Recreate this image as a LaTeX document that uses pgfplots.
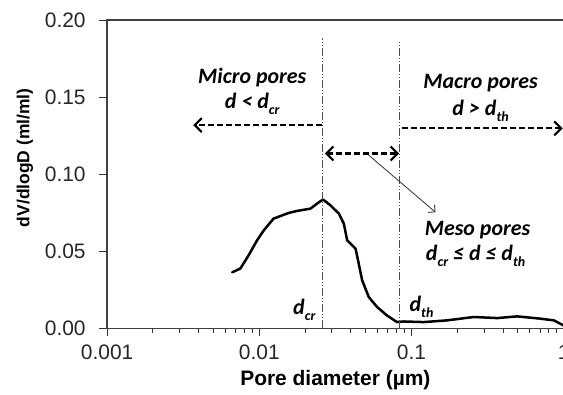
\documentclass[border=0pt]{standalone}
\usepackage{pgfplots}
\pgfplotsset{compat=1.18}
\usetikzlibrary{arrows.meta}
\usepackage{fontspec}
\setmainfont{Liberation Sans}
\newfontfamily\calfont{Carlito}
\newcommand{\sub}[1]{\raisebox{-0.3em}{\fontsize{14}{14}\selectfont #1}}
\newcommand{\ann}{\calfont\bfseries\itshape\fontsize{22}{24}\selectfont}
\begin{document}
\begin{tikzpicture}
\begin{axis}[
  name=ax,
  scale only axis, width=456bp, height=308bp,
  xmode=log, xmin=0.001, xmax=1, ymin=0, ymax=0.2,
  xtick={0.001,0.01,0.1,1}, xticklabels={0.001,0.01,0.1,1},
  ytick={0,0.05,0.1,0.15,0.2},
  yticklabels={0.00,0.05,0.10,0.15,0.20},
  /pgf/number format/assume math mode=true,
  tick label style={font=\fontsize{21}{21}\selectfont, text=black!85},
  every y tick label/.append style={anchor=east, xshift=-10bp},
  every x tick label/.append style={anchor=north, yshift=-5bp},
  xtick pos=left, ytick pos=left,
  tick align=outside,
  major tick length=8bp, minor tick length=4.5bp,
  every tick/.style={black!80, line width=1bp},
  axis line style={black!75, line width=1.3bp},
  xlabel={Pore diameter (µm)},
  ylabel={dV/dlogD (ml/ml)},
  every axis x label/.style={at={(rel axis cs:0.5,0)}, anchor=base, yshift=-57bp, font=\bfseries\fontsize{21}{21}\selectfont},
  every axis y label/.style={at={(rel axis cs:0,0.5536)}, xshift=-82bp, rotate=90, anchor=center, font=\bfseries\fontsize{17.5}{17.5}\selectfont},
  clip=false,
]
\addplot[black, line width=2.5bp, line join=round, line cap=round] coordinates {
(0.00664,0.0364) (0.0075,0.0388) (0.00851,0.0474) (0.00966,0.0571) (0.0107,0.0636)
(0.0124,0.0712) (0.0156,0.0749) (0.0177,0.0762) (0.0217,0.0777) (0.0240,0.0810)
(0.0262,0.0836) (0.0293,0.0799) (0.0333,0.0745) (0.0359,0.0680) (0.0378,0.0571)
(0.0429,0.0517) (0.0450,0.0420) (0.0474,0.0312) (0.0524,0.0203) (0.0594,0.0139)
(0.0690,0.0084) (0.0803,0.0041) (0.0889,0.0045) (0.120,0.0041) (0.171,0.0052)
(0.256,0.0074) (0.366,0.0067) (0.494,0.0078) (0.706,0.0063) (0.863,0.0052) (1.0,0.0019)
};
% vertical boundary lines
\draw[black!70, line width=1.1bp, dash pattern=on 8bp off 2bp on 1bp off 2bp on 1bp off 2bp]
  (axis cs:0.02584,0) -- (axis cs:0.02584,0.1881);
\draw[black!70, line width=1.1bp, dash pattern=on 8bp off 2bp on 1bp off 2bp on 1bp off 2bp]
  (axis cs:0.0839,0) -- (axis cs:0.0839,0.1870);
% arrows
\draw[line width=2.1bp, dash pattern=on 6bp off 3bp, -{Straight Barb[length=7bp,width=14bp,line width=2.1bp]}]
  (rel axis cs:0.4708,0.659) -- (rel axis cs:0.1886,0.659);
\draw[line width=2.1bp, dash pattern=on 6bp off 3bp, -{Straight Barb[length=7bp,width=14bp,line width=2.1bp]}]
  (rel axis cs:0.6456,0.6487) -- (rel axis cs:0.9978,0.6487);
\draw[line width=2.1bp, dash pattern=on 6bp off 3bp, {Straight Barb[length=7bp,width=14bp,line width=2.1bp]}-{Straight Barb[length=7bp,width=14bp,line width=2.1bp]}]
  (rel axis cs:0.4768,0.5672) -- (rel axis cs:0.6394,0.5672);
\draw[black!75, line width=0.9bp, -{Straight Barb[length=5bp,width=10bp]}]
  (rel axis cs:0.5730,0.5617) -- (rel axis cs:0.7193,0.3766);
% texts
\node[anchor=base] at (rel axis cs:0.318,0.7955) {\ann Micro pores};
\node[anchor=base] at (rel axis cs:0.318,0.714) {\ann d < d\sub{cr}};
\node[anchor=base] at (rel axis cs:0.818,0.779) {\ann Macro pores};
\node[anchor=base] at (rel axis cs:0.818,0.6916) {\ann d > d\sub{th}};
\node[anchor=base] at (rel axis cs:0.8114,0.302) {\ann Meso pores};
\node[anchor=base] at (rel axis cs:0.807,0.2208) {\ann d\sub{cr} ≤ d ≤ d\sub{th}};
\node[anchor=base] at (rel axis cs:0.432,0.0455) {\ann d\sub{cr}};
\node[anchor=base] at (rel axis cs:0.6886,0.0552) {\ann d\sub{th}};
\end{axis}
\pgfresetboundingbox
\path ([xshift=-107bp,yshift=-66bp]ax.south west) rectangle ([xshift=-0.7bp,yshift=20bp]ax.north east);
\end{tikzpicture}
\end{document}
